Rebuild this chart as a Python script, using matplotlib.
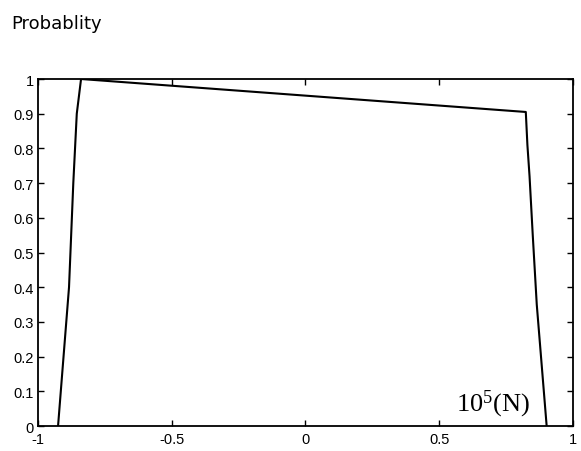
import matplotlib.pyplot as plt
import numpy as np

# curve
x_vals = [-0.925, -0.884, -0.868, -0.855, -0.839, 0.824, 0.83, 0.838, 0.85, 0.865, 0.902]
y_vals = [0.0, 0.4, 0.7, 0.9, 1.0, 0.905, 0.81, 0.72, 0.55, 0.35, 0.0]

x_ticks = [-1, -0.5, 0, 0.5, 1]
x_labels = ["-1", "-0.5", "0", "0.5", "1"]
y_ticks = [0, 0.1, 0.2, 0.3, 0.4, 0.5, 0.6, 0.7, 0.8, 0.9, 1]
y_labels = ["0", "0.1", "0.2", "0.3", "0.4", "0.5", "0.6", "0.7", "0.8", "0.9", "1"]

fig = plt.figure(figsize=(5.81, 4.52), dpi=100)
ax = fig.add_axes([0.0654, 0.0553, 0.9206, 0.7677])

ax.plot(x_vals, y_vals, color="black", linewidth=1.5)

ax.set_xlim(-1, 1)
ax.set_ylim(0, 1)
ax.set_xticks(x_ticks)
ax.set_xticklabels(x_labels, fontsize=10.5, family="Liberation Sans")
ax.set_yticks(y_ticks)
ax.set_yticklabels(y_labels, fontsize=10.5, family="Liberation Sans")
ax.tick_params(direction="in", length=4, width=1, top=True, right=True)
ax.tick_params(axis="x", pad=4)
ax.tick_params(axis="y", pad=3)
for s in ax.spines.values():
    s.set_linewidth(1.3)

ax.text(0.84, 0.02, r"$\mathregular{10^5}$(N)", transform=ax.transData,
        ha="right", va="bottom", fontsize=19, family="Liberation Serif")

fig.text(0.02, 0.935, "Probablity", fontsize=13, family="DejaVu Sans")

fig.savefig("out.png", dpi=100)
